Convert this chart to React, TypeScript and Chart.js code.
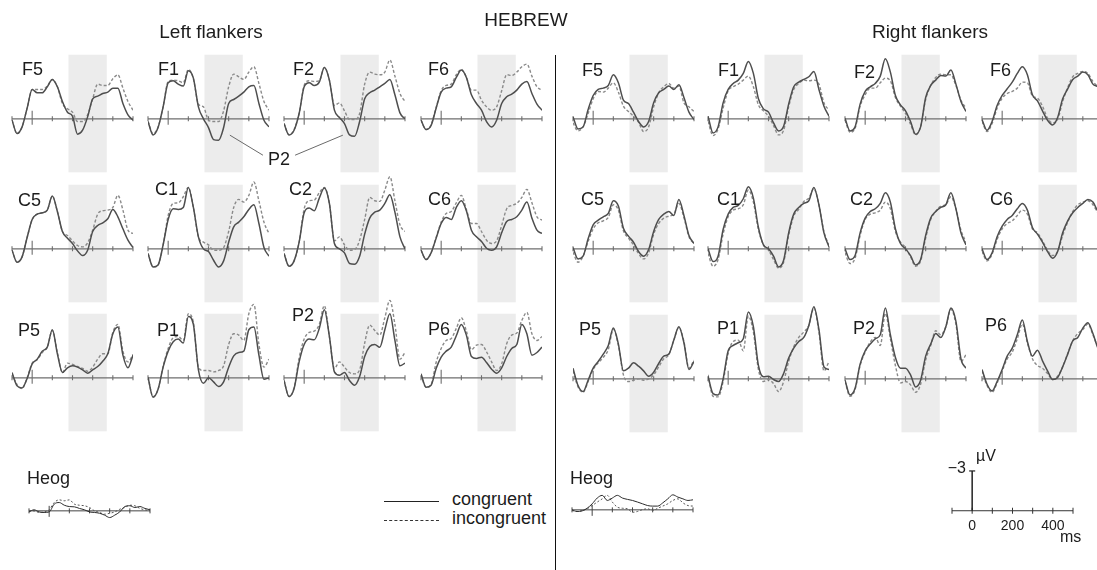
import React, { useEffect, useRef } from "react";
import { Chart, registerables } from "chart.js";

Chart.register(...registerables);

// ---------------- DATA ----------------
const timeMs = [-100, -75, -50, -25, 0, 25, 50, 75, 100, 125, 150, 175, 200, 225, 250, 275, 300, 325, 350, 375, 400, 425, 450, 475, 500];
const axisTicksMs = [-100, 0, 100, 200, 300, 400, 500];
const p2WindowMs = [180, 370];
const scaleTickLabelsMs = [0, 200, 400];
const scaleBarUv = -3;

// values in microvolts, negative up
const leftF5Cong = [0.1, 1.1, 0.6, -0.8, -2.2, -1.95, -1.95, -2.4, -2.95, -2.4, -1.3, -0.5, -0.2, 1.15, 0.85, -0.15, -1.5, -1.7, -1.9, -2.0, -2.3, -2.3, -1.15, -0.3, 0.1];
const leftF5Incong = [0.1, 1.1, 0.6, -0.8, -2.2, -2.2, -2.2, -2.45, -2.95, -2.4, -1.15, -0.75, -0.5, 0.2, 0.2, -0.3, -1.5, -2.6, -2.5, -2.5, -3.0, -3.3, -2.3, -1.3, -0.65];
const leftF1Cong = [0.2, 1.2, 0.65, -0.9, -2.7, -2.85, -2.6, -2.45, -3.6, -3.05, -0.9, 0, 0.65, 1.55, 1.6, 0.65, -1.15, -1.45, -1.7, -2.0, -2.4, -2.5, -1.15, 0.1, 0.6];
const leftF1Incong = [0.2, 1.1, 0.6, -0.9, -2.8, -2.9, -2.85, -2.7, -3.7, -3.0, -1.1, -0.9, 0.1, 0.2, 0.2, -0.6, -2.4, -3.35, -3.15, -2.95, -3.5, -3.9, -2.65, -1.3, -0.65];
const leftF2Cong = [0.35, 1.2, 0.85, -0.4, -2.4, -2.7, -2.5, -2.75, -3.85, -2.9, -0.65, -0.1, 0.35, 1.2, 1.3, 0.2, -1.5, -1.95, -2.15, -2.4, -2.65, -2.95, -1.8, -0.45, 0];
const leftF2Incong = [0.35, 1.2, 0.8, -0.4, -2.5, -2.85, -2.8, -2.85, -3.85, -2.9, -1.0, -1.2, -0.6, 0.05, 0.05, -0.4, -2.6, -3.5, -3.35, -3.3, -3.5, -4.4, -3.2, -1.9, -1.3];
const leftF6Cong = [0.1, 0.8, 0.5, -0.8, -2.0, -2.3, -2.4, -3.1, -3.65, -3.1, -1.8, -1.15, -0.65, 0.2, 0.6, 0.1, -1.15, -1.65, -1.85, -2.15, -2.6, -2.8, -1.9, -1.1, -0.65];
const leftF6Incong = [0.1, 0.8, 0.45, -0.85, -2.1, -2.5, -2.6, -3.3, -3.7, -3.1, -2.15, -2.15, -1.4, -0.9, -0.65, -0.9, -2.1, -3.3, -3.25, -3.5, -3.9, -4.1, -3.2, -2.4, -2.15];

const leftC5Cong = [0.1, 1.0, 0.6, -0.85, -2.2, -2.6, -2.7, -2.9, -3.95, -2.8, -1.3, -0.8, -0.4, 0.15, 0.5, 0.1, -1.3, -1.75, -1.95, -2.25, -2.95, -2.4, -1.5, -0.65, -0.1];
const leftC5Incong = [0.1, 1.0, 0.6, -0.85, -2.2, -2.6, -2.7, -2.9, -3.95, -2.8, -1.3, -1.0, -0.6, -0.25, -0.15, -0.45, -1.4, -2.6, -2.85, -2.9, -3.1, -4.0, -2.9, -1.4, -1.15];
const leftC1Cong = [0.35, 1.35, 1.2, -0.3, -2.2, -3.0, -2.95, -3.1, -4.6, -3.1, -0.9, 0, 0.2, 0.85, 1.35, 0.9, -0.5, -1.65, -2.0, -2.4, -2.95, -3.3, -1.9, -0.1, 0.55];
const leftC1Incong = [0.35, 1.35, 1.2, -0.3, -2.5, -3.4, -3.45, -3.9, -4.6, -3.1, -0.9, -0.5, -0.3, 0.1, 0.1, -0.1, -1.3, -3.1, -3.7, -3.5, -4.0, -5.0, -3.6, -2.0, -1.15];
const leftC2Cong = [0.35, 1.3, 0.9, -0.5, -2.7, -3.05, -2.85, -3.8, -4.55, -3.4, -0.4, 0, 0.3, 1.1, 1.15, 0.55, -1.1, -2.3, -2.75, -2.9, -3.4, -4.05, -2.75, -0.9, 0];
const leftC2Incong = [0.35, 1.3, 0.9, -0.5, -3.0, -3.6, -3.65, -4.2, -4.6, -3.4, -0.6, -0.9, -0.3, 0.1, 0.05, -0.65, -2.2, -3.85, -3.6, -3.55, -4.4, -5.4, -3.6, -1.8, -1.3];
const leftC6Cong = [0.1, 0.8, 0.3, -0.8, -1.9, -2.35, -2.2, -3.1, -3.6, -2.85, -1.4, -0.9, -0.55, -0.05, 0.1, -0.15, -1.2, -2.05, -2.2, -2.4, -2.9, -3.5, -2.3, -1.4, -1.15];
const leftC6Incong = [0.1, 0.8, 0.3, -0.85, -2.0, -2.65, -2.8, -3.45, -4.0, -2.95, -1.9, -1.9, -1.3, -0.65, -0.4, -0.6, -1.75, -3.0, -3.25, -3.4, -3.85, -4.45, -3.45, -2.4, -2.15];

const leftP5Cong = [-0.4, 0.6, 0.75, 0.05, -1.05, -1.4, -2.0, -2.3, -3.6, -1.8, -0.4, -0.75, -0.9, -0.8, -0.6, -0.35, -0.6, -0.85, -1.25, -1.8, -3.3, -3.8, -1.7, -0.75, -1.7];
const leftP5Incong = [-0.3, 0.5, 0.8, 0.0, -1.1, -1.35, -1.9, -2.3, -3.55, -1.9, -0.4, -1.1, -1.0, -0.85, -0.7, -0.5, -0.8, -1.4, -1.8, -1.8, -3.4, -4.0, -2.0, -1.2, -1.75];
const leftP1Cong = [-0.05, 1.45, 0.85, -0.8, -2.0, -2.7, -2.9, -2.6, -4.6, -4.0, -0.6, 0.4, 0.0, 0.3, 0.65, 0.3, -0.8, -1.65, -1.9, -2.0, -3.6, -3.8, -1.7, 0.1, 0.0];
const leftP1Incong = [-0.05, 1.4, 0.85, -0.85, -2.2, -3.0, -3.1, -2.8, -4.8, -4.15, -0.8, -0.55, -0.55, -0.45, -0.55, -0.9, -2.5, -3.3, -3.2, -2.8, -4.8, -5.5, -2.5, -0.8, -1.4];
const leftP2Cong = [0.2, 1.4, 0.8, -1.2, -2.5, -2.9, -2.85, -3.7, -5.1, -3.1, -0.45, -0.2, -0.4, 0.2, 0.55, -0.1, -1.6, -2.35, -2.5, -2.3, -3.6, -4.8, -2.8, -0.9, -1.1];
const leftP2Incong = [0.2, 1.4, 0.75, -1.5, -2.9, -3.4, -3.5, -4.0, -5.4, -3.1, -0.7, -1.2, -0.8, -0.4, -0.3, -0.6, -2.6, -3.95, -3.55, -3.2, -4.5, -5.8, -4.0, -1.4, -1.9];
const leftP6Cong = [-0.3, 0.7, 0.55, -0.7, -1.55, -2.0, -2.3, -3.15, -4.0, -3.2, -1.6, -1.45, -1.55, -1.15, -0.65, -0.35, -0.75, -1.6, -2.2, -2.5, -4.0, -3.3, -1.7, -1.9, -2.3];
const leftP6Incong = [-0.2, 0.7, 0.5, -1.15, -2.2, -2.8, -2.95, -3.7, -4.5, -3.5, -2.1, -2.45, -2.5, -1.95, -1.2, -0.55, -1.05, -2.55, -3.2, -3.35, -4.3, -4.9, -3.3, -2.8, -3.1];

const rightF5Cong = [-0.15, 0.75, 0.6, -0.7, -1.75, -2.2, -2.3, -2.5, -3.3, -2.7, -1.4, -1.15, -0.5, 0.2, 0.6, 0.2, -1.2, -1.95, -2.2, -2.45, -2.2, -2.55, -1.6, -0.5, 0.05];
const rightF5Incong = [0.3, 0.9, 0.6, -0.4, -1.5, -2.05, -2.0, -2.3, -2.7, -2.0, -0.95, -0.55, -0.2, 0.25, 0.95, 0.6, -0.9, -1.95, -2.4, -2.65, -2.3, -2.45, -1.2, -0.9, -0.55];
const rightF1Cong = [-0.2, 1.05, 0.6, -1.2, -2.2, -2.65, -2.9, -3.4, -4.3, -3.4, -1.5, -0.75, -0.5, 0.3, 0.9, 0.55, -1.1, -2.4, -2.75, -2.95, -3.15, -3.55, -2.2, -0.95, -0.2];
const rightF1Incong = [0.2, 1.25, 0.75, -0.8, -2.1, -2.4, -2.6, -2.9, -3.2, -2.4, -1.05, -0.6, -0.2, 0.5, 1.2, 0.85, -0.9, -2.2, -2.65, -2.9, -2.85, -2.9, -2.6, -1.2, -0.65];
const rightF2Cong = [-0.05, 0.9, 0.6, -1.1, -2.05, -2.4, -2.65, -3.2, -4.5, -3.5, -1.75, -1.05, -0.6, 0.2, 1.15, 0.6, -1.6, -2.5, -2.9, -3.25, -3.2, -3.65, -2.6, -1.3, -0.55];
const rightF2Incong = [0.1, 1.0, 0.7, -0.95, -1.8, -2.3, -2.3, -2.7, -3.05, -2.85, -1.6, -0.95, -0.4, 0.4, 1.2, 0.55, -1.45, -2.5, -3.1, -3.35, -3.3, -3.3, -2.5, -1.4, -0.8];
const rightF6Cong = [0.05, 0.85, 0.2, -1.0, -1.75, -2.25, -2.75, -3.4, -3.9, -3.3, -1.8, -1.35, -0.6, 0.1, 0.45, -0.1, -1.5, -2.25, -2.95, -3.2, -3.5, -3.3, -2.6, -2.4, -2.0];
const rightF6Incong = [0.2, 0.95, 0.35, -0.8, -1.55, -1.9, -2.05, -2.3, -2.75, -2.7, -1.7, -1.55, -0.95, -0.05, 0.3, 0.05, -1.3, -2.35, -3.15, -3.4, -3.55, -3.4, -2.8, -2.4, -2.0];

const rightC5Cong = [-0.1, 0.75, 0.55, -0.75, -1.8, -2.15, -2.4, -2.65, -3.6, -3.2, -1.55, -0.95, -0.5, 0.2, 0.55, 0.05, -1.3, -2.2, -2.6, -2.8, -2.5, -3.7, -2.5, -1.0, -0.4];
const rightC5Incong = [0.25, 1.0, 0.55, -0.55, -1.5, -1.95, -2.1, -2.35, -3.3, -2.9, -1.35, -0.8, -0.3, 0.35, 0.75, 0.3, -1.1, -1.9, -2.3, -2.45, -2.6, -3.4, -2.35, -0.9, -0.4];
const rightC1Cong = [0, 0.95, 0.55, -1.45, -2.6, -3.1, -3.25, -3.75, -4.65, -3.8, -1.6, -0.3, 0, 0.55, 1.35, 0.85, -1.2, -2.6, -3.1, -3.4, -3.6, -4.6, -3.3, -1.2, -0.15];
const rightC1Incong = [0.35, 1.3, 0.8, -1.1, -2.4, -2.9, -3.0, -3.3, -4.4, -3.5, -1.45, -0.3, 0.1, 0.8, 1.45, 1.0, -1.0, -2.45, -2.95, -3.55, -3.8, -4.5, -3.3, -1.3, -0.25];
const rightC2Cong = [0, 0.8, 0.5, -1.2, -2.3, -2.8, -3.0, -3.4, -4.2, -3.5, -1.5, -0.4, 0, 0.5, 1.2, 0.8, -1.0, -2.3, -2.8, -3.1, -3.3, -4.2, -3.0, -1.2, -0.3];
const rightC2Incong = [0.3, 1.1, 0.7, -1.0, -2.2, -2.6, -2.7, -2.9, -3.5, -3.0, -1.3, -0.5, -0.1, 0.6, 1.3, 0.9, -0.8, -2.2, -2.8, -3.2, -3.3, -3.9, -3.0, -1.4, -0.5];
const rightC6Cong = [0, 0.8, 0.3, -0.9, -1.7, -2.2, -2.5, -3.0, -3.4, -2.9, -1.6, -1.1, -0.5, 0.2, 0.7, 0.2, -1.2, -2.1, -2.7, -3.1, -3.4, -3.7, -3.5, -2.8, -2.4];
const rightC6Incong = [0.2, 0.9, 0.4, -0.7, -1.5, -1.9, -2.1, -2.5, -2.9, -2.6, -1.5, -1.2, -0.6, 0.1, 0.5, 0.2, -1.0, -2.0, -2.8, -3.3, -3.5, -3.6, -3.3, -2.7, -2.3];

const rightP5Cong = [-0.8, 0.5, 0.95, 0.1, -0.8, -1.3, -1.85, -2.5, -3.8, -2.6, -0.6, -0.8, -1.2, -0.95, -0.6, -0.2, -0.5, -1.15, -1.7, -1.85, -2.9, -3.9, -2.7, -0.7, -1.3];
const rightP5Incong = [-0.6, 0.6, 1.0, 0.2, -0.7, -1.2, -1.6, -2.2, -3.7, -2.5, -0.3, 0.2, 0.1, 0, 0.1, 0, -0.3, -0.9, -1.5, -1.8, -2.9, -3.85, -2.8, -0.8, -1.4];
const rightP1Cong = [-0.2, 1.1, 1.2, 0.0, -2.1, -2.5, -2.7, -3.0, -5.0, -3.9, -1.0, -0.15, -0.2, 0.05, 0.2, -0.4, -1.55, -2.3, -2.8, -3.1, -4.0, -5.4, -3.7, -0.9, -0.7];
const rightP1Incong = [-0.3, 1.3, 1.35, 0.2, -1.9, -2.8, -2.9, -2.1, -4.7, -3.5, -0.7, 0.2, 0.05, 0.35, 0.95, 0.2, -1.3, -2.4, -3.1, -3.5, -4.0, -5.3, -3.5, -0.6, -1.3];
const rightP2Cong = [0.1, 1.2, 0.7, -1.1, -2.1, -2.6, -3.0, -3.3, -5.3, -3.3, -1.6, -0.8, -0.8, -0.3, 0.6, 0.1, -1.7, -2.6, -3.4, -3.1, -3.9, -5.3, -4.3, -1.5, -0.8];
const rightP2Incong = [0.2, 1.3, 0.8, -1.0, -2.0, -2.75, -3.1, -2.5, -4.9, -3.0, -1.0, 0.3, 0.2, 0.45, 1.0, 0.4, -1.4, -2.5, -3.6, -3.3, -3.9, -5.2, -4.1, -1.3, -1.8];
const rightP6Cong = [-0.7, 0.4, 0.9, 0.2, -0.7, -1.7, -2.3, -3.3, -4.4, -2.8, -1.7, -2.15, -1.35, -0.6, 0.05, -0.1, -0.9, -1.85, -2.85, -3.1, -3.8, -4.2, -3.4, -2.3, -1.9];
const rightP6Incong = [-0.6, 0.5, 1.0, 0.3, -0.6, -1.5, -2.0, -3.0, -4.1, -2.7, -1.5, -1.0, -0.8, -0.4, 0.05, -0.2, -0.9, -1.9, -2.85, -3.4, -3.7, -4.1, -3.3, -2.4, -2.0];

const leftHeogCong = [0.08, -0.08, 0.08, 0.12, 0.08, -0.5, -0.62, -0.42, -0.32, -0.3, -0.18, -0.08, 0.08, 0.12, 0.18, 0.32, 0.5, 0.32, 0.08, -0.32, -0.38, -0.25, -0.32, -0.18, -0.08];
const leftHeogIncong = [0, 0, 0.12, 0.08, -0.08, -0.62, -0.82, -0.75, -0.82, -0.5, -0.42, -0.38, -0.25, 0, 0.12, 0.25, 0.18, 0.08, -0.12, -0.25, -0.42, -0.38, -0.18, -0.08, 0];
const rightHeogCong = [0, 0.12, 0.08, -0.12, -0.45, -0.88, -1.08, -0.7, -0.88, -1.08, -0.88, -0.78, -0.7, -0.58, -0.45, -0.32, -0.28, -0.28, -0.52, -0.82, -1.12, -0.95, -0.82, -0.7, -0.75];
const rightHeogIncong = [0.05, 0.12, 0.05, -0.08, -0.32, -0.58, -0.82, -1.08, -0.58, -0.2, -0.12, -0.08, 0.18, 0.12, -0.02, -0.08, 0.05, -0.12, -0.28, -0.45, -0.7, -0.82, -0.52, -0.32, -0.28];

// ---------------- LAYOUT / STYLE ----------------
const FONT = '"Liberation Sans", Arial, Helvetica, sans-serif';
const PX_PER_UV = 40 / 3;
const AXIS_W = 121;
const PAD = 4;
const X_MIN = -100;
const X_MAX = 500;
const BAND_TOP_UV = -4.8;
const BAND_BOTTOM_UV = 4.0;
const LEFT_X0 = [12, 148, 284, 421];
const RIGHT_X0 = [573, 708, 845, 982];
const LEFT_BASE = [118.7, 248.7, 377.5];
const RIGHT_BASE = [119, 248.7, 379];
const SOLID_COLOR = "#4e4e4e";
const DASH_COLOR = "#8a8a8a";

type Pointer = { fromT: number; fromV: number; toT: number; toV: number };
type Series = { values: number[]; times?: number[]; color: string; width: number; dash?: number[]; order: number; smooth: boolean };

type PanelDef = {
  name: string; side: "L" | "R"; row: number; col: number;
  cong: number[]; incong: number[]; lx: number; ly: number; pointer?: Pointer;
};

const panels: PanelDef[] = [
  { name: "F5", side: "L", row: 0, col: 0, cong: leftF5Cong, incong: leftF5Incong, lx: 10, ly: -56 },
  { name: "F1", side: "L", row: 0, col: 1, cong: leftF1Cong, incong: leftF1Incong, lx: 10, ly: -56, pointer: { fromT: 306, fromV: 1.22, toT: 470, toV: 2.72 } },
  { name: "F2", side: "L", row: 0, col: 2, cong: leftF2Cong, incong: leftF2Incong, lx: 9, ly: -56, pointer: { fromT: 192, fromV: 1.22, toT: -45, toV: 2.72 } },
  { name: "F6", side: "L", row: 0, col: 3, cong: leftF6Cong, incong: leftF6Incong, lx: 7, ly: -56 },
  { name: "C5", side: "L", row: 1, col: 0, cong: leftC5Cong, incong: leftC5Incong, lx: 6, ly: -55 },
  { name: "C1", side: "L", row: 1, col: 1, cong: leftC1Cong, incong: leftC1Incong, lx: 7, ly: -66 },
  { name: "C2", side: "L", row: 1, col: 2, cong: leftC2Cong, incong: leftC2Incong, lx: 5, ly: -66 },
  { name: "C6", side: "L", row: 1, col: 3, cong: leftC6Cong, incong: leftC6Incong, lx: 7, ly: -56 },
  { name: "P5", side: "L", row: 2, col: 0, cong: leftP5Cong, incong: leftP5Incong, lx: 6, ly: -54 },
  { name: "P1", side: "L", row: 2, col: 1, cong: leftP1Cong, incong: leftP1Incong, lx: 9, ly: -54 },
  { name: "P2", side: "L", row: 2, col: 2, cong: leftP2Cong, incong: leftP2Incong, lx: 8, ly: -69 },
  { name: "P6", side: "L", row: 2, col: 3, cong: leftP6Cong, incong: leftP6Incong, lx: 7, ly: -55 },
  { name: "F5", side: "R", row: 0, col: 0, cong: rightF5Cong, incong: rightF5Incong, lx: 9, ly: -56 },
  { name: "F1", side: "R", row: 0, col: 1, cong: rightF1Cong, incong: rightF1Incong, lx: 10, ly: -56 },
  { name: "F2", side: "R", row: 0, col: 2, cong: rightF2Cong, incong: rightF2Incong, lx: 9, ly: -54 },
  { name: "F6", side: "R", row: 0, col: 3, cong: rightF6Cong, incong: rightF6Incong, lx: 8, ly: -56 },
  { name: "C5", side: "R", row: 1, col: 0, cong: rightC5Cong, incong: rightC5Incong, lx: 8, ly: -56 },
  { name: "C1", side: "R", row: 1, col: 1, cong: rightC1Cong, incong: rightC1Incong, lx: 9, ly: -56 },
  { name: "C2", side: "R", row: 1, col: 2, cong: rightC2Cong, incong: rightC2Incong, lx: 5, ly: -56 },
  { name: "C6", side: "R", row: 1, col: 3, cong: rightC6Cong, incong: rightC6Incong, lx: 8, ly: -56 },
  { name: "P5", side: "R", row: 2, col: 0, cong: rightP5Cong, incong: rightP5Incong, lx: 6, ly: -57 },
  { name: "P1", side: "R", row: 2, col: 1, cong: rightP1Cong, incong: rightP1Incong, lx: 9, ly: -58 },
  { name: "P2", side: "R", row: 2, col: 2, cong: rightP2Cong, incong: rightP2Incong, lx: 8, ly: -58 },
  { name: "P6", side: "R", row: 2, col: 3, cong: rightP6Cong, incong: rightP6Incong, lx: 3, ly: -61 },
];

type ChartProps = {
  x0: number; yb: number; yMin: number; yMax: number; series: Series[];
  band?: boolean; axisColor: string; zeroTick: [number, number]; tickLen: number; axisWidth: number;
  pointer?: Pointer;
};

function ErpChart(p: ChartProps) {
  const ref = useRef<HTMLCanvasElement>(null);
  const plotH = Math.round((p.yMax - p.yMin) * PX_PER_UV);
  const width = AXIS_W + 2 * PAD;
  const height = plotH + 2 * PAD;
  const left = Math.round(p.x0 - PAD);
  const top = Math.round(p.yb - PAD - (0 - p.yMin) * (plotH / (p.yMax - p.yMin)));

  useEffect(() => {
    const canvas = ref.current;
    if (!canvas) return;
    const decor = {
      id: "erpDecor",
      beforeDatasetsDraw(chart: any) {
        const ctx = chart.ctx as CanvasRenderingContext2D;
        const xs = chart.scales.x;
        const ys = chart.scales.y;
        ctx.save();
        if (p.band) {
          const xa = xs.getPixelForValue(p2WindowMs[0]);
          const xb = xs.getPixelForValue(p2WindowMs[1]);
          const ya = ys.getPixelForValue(BAND_TOP_UV);
          const yb2 = ys.getPixelForValue(BAND_BOTTOM_UV);
          ctx.fillStyle = "#ececec";
          ctx.fillRect(xa, ya, xb - xa, yb2 - ya);
        }
        const y0 = ys.getPixelForValue(0);
        ctx.strokeStyle = p.axisColor;
        ctx.lineWidth = p.axisWidth;
        ctx.beginPath();
        ctx.moveTo(xs.getPixelForValue(X_MIN), y0);
        ctx.lineTo(xs.getPixelForValue(X_MAX), y0);
        for (const t of axisTicksMs) {
          const px = xs.getPixelForValue(t);
          const up = t === 0 ? p.zeroTick[0] : p.tickLen;
          const down = t === 0 ? p.zeroTick[1] : p.tickLen;
          ctx.moveTo(px, y0 - up);
          ctx.lineTo(px, y0 + down);
        }
        ctx.stroke();
        ctx.restore();
      },
      afterDatasetsDraw(chart: any) {
        if (!p.pointer) return;
        const ctx = chart.ctx as CanvasRenderingContext2D;
        const xs = chart.scales.x;
        const ys = chart.scales.y;
        ctx.save();
        ctx.strokeStyle = "#6a6a6a";
        ctx.lineWidth = 1;
        ctx.beginPath();
        ctx.moveTo(xs.getPixelForValue(p.pointer.fromT), ys.getPixelForValue(p.pointer.fromV));
        ctx.lineTo(xs.getPixelForValue(p.pointer.toT), ys.getPixelForValue(p.pointer.toV));
        ctx.stroke();
        ctx.restore();
      },
    };
    const chart = new Chart(canvas, {
      type: "line",
      data: {
        datasets: p.series.map((s) => {
          const times = s.times || timeMs;
          return {
            data: times.map((t, i) => ({ x: t, y: s.values[i] })),
            borderColor: s.color,
            borderWidth: s.width,
            borderDash: s.dash || [],
            pointRadius: 0,
            fill: false,
            tension: 0,
            cubicInterpolationMode: s.smooth ? "monotone" : "default",
            order: s.order,
          } as any;
        }),
      },
      options: {
        animation: false,
        responsive: false,
        maintainAspectRatio: false,
        events: [],
        layout: { padding: PAD },
        scales: {
          x: { type: "linear", min: X_MIN, max: X_MAX, display: false },
          y: { type: "linear", min: p.yMin, max: p.yMax, reverse: true, display: false },
        },
        plugins: { legend: { display: false }, tooltip: { enabled: false }, title: { display: false } },
      } as any,
      plugins: [decor as any],
    });
    return () => chart.destroy();
  }, []);

  return (
    <canvas
      ref={ref}
      width={width}
      height={height}
      style={{ position: "absolute", left, top, width, height }}
    />
  );
}

function Txt({ x, capTop, size, text, align = "left" }: { x: number; capTop: number; size: number; text: string; align?: "left" | "center" | "right" }) {
  const style: React.CSSProperties = {
    position: "absolute",
    top: capTop - 0.1305 * size,
    fontSize: size,
    lineHeight: `${size}px`,
    fontFamily: FONT,
    color: "#1c1c1c",
    whiteSpace: "nowrap",
  };
  if (align === "left") style.left = x;
  if (align === "center") { style.left = x; style.transform = "translateX(-50%)"; }
  if (align === "right") { style.right = 1097 - x; }
  return <div style={style}>{text}</div>;
}

const SCALE_X0 = 952;
const SCALE_YB = 510.5;
const scalePxPerMs = AXIS_W / (X_MAX - X_MIN);

export default function App() {
  return (
    <div style={{ position: "absolute", left: 0, top: 0, width: 1097, height: 570, overflow: "hidden", background: "#ffffff" }}>
      {panels.map((pd, k) => {
        const x0 = pd.side === "L" ? LEFT_X0[pd.col] : RIGHT_X0[pd.col];
        const yb = pd.side === "L" ? LEFT_BASE[pd.row] : RIGHT_BASE[pd.row];
        return (
          <React.Fragment key={k}>
            <ErpChart
              x0={x0}
              yb={yb}
              yMin={-6.5}
              yMax={4.5}
              band
              axisColor="#6f6f6f"
              axisWidth={1.1}
              zeroTick={[8, 6]}
              tickLen={2.5}
              pointer={pd.pointer}
              series={[
                { values: pd.cong, color: SOLID_COLOR, width: 1.5, order: 0, smooth: true },
                { values: pd.incong, color: DASH_COLOR, width: 1.4, dash: [3, 2], order: 1, smooth: true },
              ]}
            />
            <Txt x={x0 + pd.lx} capTop={yb + pd.ly} size={18} text={pd.name} />
          </React.Fragment>
        );
      })}

      {/* Heog panels */}
      <ErpChart
        x0={28.6} yb={510.4} yMin={-2} yMax={1.5}
        axisColor="#444" axisWidth={1} zeroTick={[5, 6]} tickLen={2.5}
        series={[
          { values: leftHeogCong, color: "#2a2a2a", width: 1, order: 0, smooth: true },
          { values: leftHeogIncong, color: "#555", width: 1, dash: [2, 2], order: 1, smooth: true },
        ]}
      />
      <ErpChart
        x0={572} yb={509.8} yMin={-2} yMax={1.5}
        axisColor="#444" axisWidth={1} zeroTick={[5, 6]} tickLen={2.5}
        series={[
          { values: rightHeogCong, color: "#2a2a2a", width: 1, order: 0, smooth: true },
          { values: rightHeogIncong, color: "#555", width: 1, dash: [2, 2], order: 1, smooth: true },
        ]}
      />

      {/* Scale bar */}
      <ErpChart
        x0={SCALE_X0} yb={SCALE_YB} yMin={-3.6} yMax={1}
        axisColor="#333" axisWidth={1} zeroTick={[3, 3]} tickLen={3}
        series={[
          { values: [0, scaleBarUv], times: [0, 0], color: "#222", width: 1.5, order: 0, smooth: false },
          { values: [scaleBarUv, scaleBarUv], times: [-15, 15], color: "#222", width: 1.2, order: 1, smooth: false },
        ]}
      />
      <Txt x={966} capTop={462} size={16} text={"\u22123"} align="right" />
      <Txt x={976} capTop={450.5} size={16} text={"\u00B5V"} />
      {scaleTickLabelsMs.map((t) => (
        <Txt key={t} x={SCALE_X0 + (t - X_MIN) * scalePxPerMs} capTop={519.5} size={14} text={String(t)} align="center" />
      ))}
      <Txt x={1060} capTop={531.5} size={16} text="ms" />

      {/* Titles */}
      <Txt x={526} capTop={12} size={19} text="HEBREW" align="center" />
      <Txt x={211} capTop={24} size={19} text="Left flankers" align="center" />
      <Txt x={930} capTop={24} size={19} text="Right flankers" align="center" />

      {/* P2 annotation label */}
      <Txt x={268} capTop={152} size={18} text="P2" />

      {/* Heog labels */}
      <Txt x={27} capTop={471} size={18} text="Heog" />
      <Txt x={570} capTop={471} size={18} text="Heog" />

      {/* Legend */}
      <div style={{ position: "absolute", left: 384, top: 501, width: 55, height: 0, borderTop: "1px solid #222" }} />
      <div style={{ position: "absolute", left: 384, top: 520, width: 55, height: 0, borderTop: "1px dashed #333" }} />
      <Txt x={452} capTop={492} size={18} text="congruent" />
      <Txt x={452} capTop={511} size={18} text="incongruent" />

      {/* Divider */}
      <div style={{ position: "absolute", left: 555, top: 55, width: 1, height: 515, background: "#111" }} />
    </div>
  );
}
